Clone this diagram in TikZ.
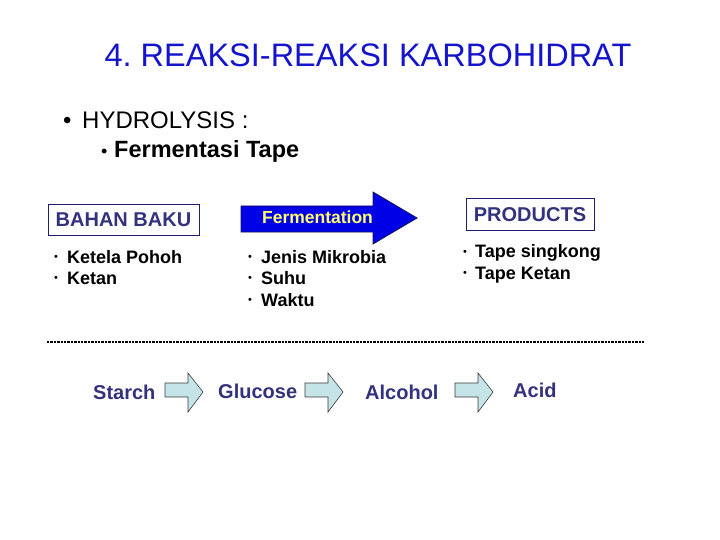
\documentclass[tikz,border=0pt]{standalone}
\usepackage{fontspec}
\setmainfont{Liberation Sans}
\definecolor{titleblue}{RGB}{20,20,204}
\definecolor{navy}{RGB}{50,50,125}
\definecolor{boxline}{RGB}{30,30,110}
\definecolor{fermblue}{RGB}{0,0,230}
\definecolor{fermline}{RGB}{20,20,90}
\definecolor{lightyel}{RGB}{255,255,110}
\definecolor{pale}{RGB}{196,228,232}
\definecolor{paleline}{RGB}{60,60,60}
\frenchspacing
\begin{document}
\begin{tikzpicture}[x=1pt,y=-1pt,
  txt/.style={inner sep=0pt, anchor=base west},
  listtxt/.style={txt, font=\fontsize{18}{18}\selectfont\bfseries},
  smbullet/.style={txt, font=\fontsize{11}{11}\selectfont, yshift=3pt},
  hdrbox/.style={draw=boxline, line width=1pt, inner sep=0pt},
  hdrtxt/.style={txt, anchor=base, text=navy, font=\fontsize{20}{20}\selectfont\bfseries},
  steptxt/.style={txt, text=navy, font=\fontsize{20}{20}\selectfont\bfseries},
  palearrow/.style={fill=pale, draw=paleline, line width=0.6pt, line join=miter}]
\useasboundingbox (0,0) rectangle (720,540);
\fill[white] (0,0) rectangle (720,540);

% title
\node[txt, anchor=base, text=titleblue, font=\fontsize{32.5}{34}\selectfont] (title) at (368,67) {4. REAKSI-REAKSI KARBOHIDRAT};

% bullets
\node[txt, font=\fontsize{24}{24}\selectfont] (bul1) at (63,129) {•};
\node[txt, font=\fontsize{24}{24}\selectfont] (hydro) at (82,129) {HYDROLYSIS :};
\node[txt, font=\fontsize{18}{18}\selectfont] (bul2) at (101,158) {•};
\node[txt, font=\fontsize{23.5}{24}\selectfont\bfseries] (ferm) at (114,158) {Fermentasi Tape};

% header boxes
\node[hdrbox, minimum width=151pt, minimum height=31pt] (bahan) at (123.5,220) {};
\node[hdrtxt] (bahantxt) at (123.5,226) {BAHAN BAKU};
\node[hdrbox, minimum width=128pt, minimum height=32pt] (prod) at (530,215) {};
\node[hdrtxt] (prodtxt) at (530,222) {PRODUCTS};

% fermentation arrow
\draw[fill=fermblue, draw=fermline, line width=0.8pt, line join=miter]
  (241,206) -- (373,206) -- (373,192) -- (417,218) -- (373,244) -- (373,232) -- (241,232) -- cycle;
\node[txt, anchor=base, text=lightyel, font=\fontsize{17.5}{18}\selectfont\bfseries] (fermtxt) at (317.5,224) {Fermentation};

% lists
\node[smbullet] (b1) at (54,263) {•};
\node[listtxt] (l1) at (67,263) {Ketela Pohoh};
\node[smbullet] (b2) at (54,284) {•};
\node[listtxt] (l2) at (67,284) {Ketan};
\node[smbullet] (b3) at (248,263) {•};
\node[listtxt] (m1) at (261,263) {Jenis Mikrobia};
\node[smbullet] (b4) at (248,284.5) {•};
\node[listtxt] (m2) at (261,284.5) {Suhu};
\node[smbullet] (b5) at (248,306) {•};
\node[listtxt] (m3) at (261,306) {Waktu};
\node[smbullet] (b6) at (463,258) {•};
\node[listtxt] (r1) at (475,258) {Tape singkong};
\node[smbullet] (b7) at (463,279) {•};
\node[listtxt] (r2) at (475,279) {Tape Ketan};

% dotted separator
\coordinate (dl) at (47,342);
\coordinate (dr) at (645,342);
\draw[line width=2.2pt, dash pattern=on 2.3pt off 1.1pt] (dl) -- (dr);

% reaction chain
\node[steptxt] (starch) at (93,399) {Starch};
\node[steptxt] (glucose) at (218,398) {Glucose};
\node[steptxt] (alcohol) at (365,399) {Alcohol};
\node[steptxt] (acid) at (513,397) {Acid};

\foreach \sx in {165,305,455}{
  \draw[palearrow, shift={(\sx,0)}]
    (0,383) -- (23,383) -- (23,373) -- (38,392) -- (23,412) -- (23,397) -- (0,397) -- cycle;
}
\end{tikzpicture}
\end{document}
